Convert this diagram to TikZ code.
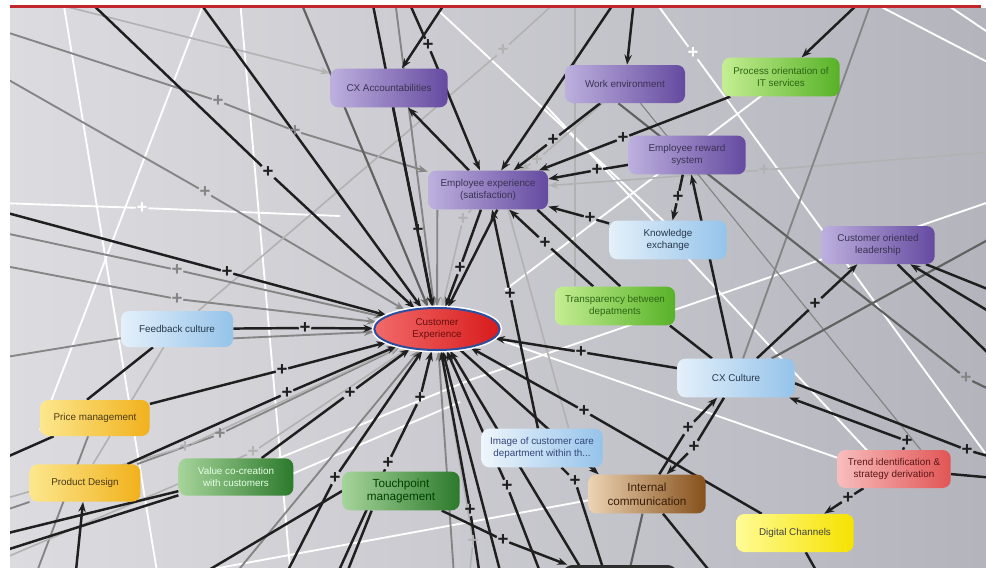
\documentclass[tikz,border=0pt]{standalone}
\usepackage{fontspec}
\newfontfamily\lab{Liberation Sans}
\usetikzlibrary{shapes.geometric,arrows.meta}
\pgfdeclarelayer{bgl}
\pgfdeclarelayer{edges}
\pgfsetlayers{bgl,edges,main}
\definecolor{bgL}{HTML}{DCDCE0}
\definecolor{bgR}{HTML}{B4B4BD}
\definecolor{topred}{HTML}{C0262C}
\definecolor{pL}{HTML}{BDB0DE}
\definecolor{pR}{HTML}{654AA0}
\definecolor{pT}{HTML}{3A3252}
\definecolor{bL}{HTML}{E4F0FA}
\definecolor{bR}{HTML}{95C3EA}
\definecolor{bT}{HTML}{26384A}
\definecolor{bbT}{HTML}{34467A}
\definecolor{gL}{HTML}{C4EE92}
\definecolor{gR}{HTML}{57B227}
\definecolor{gT}{HTML}{2C6614}
\definecolor{dgL}{HTML}{A6D49A}
\definecolor{dgR}{HTML}{2C7A2C}
\definecolor{yL}{HTML}{FCE78E}
\definecolor{yR}{HTML}{F1B11C}
\definecolor{yT}{HTML}{4A3A16}
\definecolor{dyL}{HTML}{FFFB94}
\definecolor{dyR}{HTML}{F6E200}
\definecolor{brL}{HTML}{EDD3B4}
\definecolor{brR}{HTML}{85501A}
\definecolor{brT}{HTML}{3A1E08}
\definecolor{pkL}{HTML}{F8BDBD}
\definecolor{pkR}{HTML}{E15555}
\definecolor{pkT}{HTML}{5E1616}
\definecolor{ceL}{HTML}{F26A6A}
\definecolor{ceR}{HTML}{D81B1B}
\definecolor{ceB}{HTML}{2E4E9E}
\definecolor{ceT}{HTML}{6A0E0E}
\begin{document}
\begin{tikzpicture}[x=0.75pt,y=-0.75pt,
 nbox/.style={rounded corners=6pt,minimum width=88pt,minimum height=29pt,align=center,inner sep=1pt,font=\lab\fontsize{7.4}{8.8}\selectfont},
 purp/.style={nbox,left color=pL,right color=pR,text=pT},
 lblue/.style={nbox,left color=bL,right color=bR,text=bT},
 lblueb/.style={nbox,left color=bL!60!white,right color=bR,text=bbT},
 grn/.style={nbox,left color=gL,right color=gR,text=gT},
 dgrn/.style={nbox,left color=dgL,right color=dgR,text=white!90!green},
 dgrnb/.style={nbox,left color=dgL,right color=dgR,text=black!75!green,font=\lab\fontsize{8.8}{10.4}\selectfont},
 yel/.style={nbox,left color=yL,right color=yR,text=yT},
 dyel/.style={nbox,left color=dyL,right color=dyR,text=black!75},
 brn/.style={nbox,left color=brL,right color=brR,text=brT,font=\lab\fontsize{8.8}{10.4}\selectfont},
 pnk/.style={nbox,left color=pkL,right color=pkR,text=pkT},
 cenode/.style={ellipse,minimum width=94pt,minimum height=31.5pt,inner sep=0pt,left color=ceL,right color=ceR,draw=ceB,line width=1.5pt,preaction={draw=white,line width=3.8pt},align=center,text=ceT,font=\lab\fontsize{7.4}{8.8}\selectfont},
 botn/.style={rounded corners=10pt,fill=black!82,minimum width=90pt,minimum height=30pt},
 blk/.style={draw=black!88,line width=1.85pt},
 dgl/.style={draw=black!62,line width=1.6pt},
 gry/.style={draw=black!48,line width=1.4pt},
 lgy/.style={draw=black!30,line width=1.2pt},
 wht/.style={draw=white,line width=1.4pt},
 arr/.style={-{Stealth[length=7.5pt,width=5.5pt]}},
 pl/.style={font=\lab\bfseries\fontsize{14}{14}\selectfont,inner sep=0.4pt,text=black!88},
 plg/.style={pl,text=black!48},
 pll/.style={pl,text=black!30},
 plw/.style={pl,text=white}
]
\useasboundingbox (0,0) rectangle (986,568);
\begin{pgfonlayer}{bgl}
\fill[white] (0,0) rectangle (986,568);
\shade[left color=bgL,right color=bgR] (10,8) rectangle (986,568);
\draw[topred,line width=2.4pt] (10,6.5) -- (981,6.5);
\end{pgfonlayer}

% nodes
\node[purp] (CXA) at (389,88) {CX Accountabilities};
\node[purp,minimum width=90pt,minimum height=28.5pt] (WE) at (625,84) {Work environment};
\node[grn] (PO) at (781,77) {Process orientation of\\IT services};
\node[purp] (ER) at (687,155) {Employee reward\\system};
\node[purp,minimum width=90pt] (EE) at (488,190) {Employee experience\\(satisfaction)};
\node[lblue] (KE) at (668,240) {Knowledge\\exchange};
\node[purp,minimum width=85pt,minimum height=28.5pt] (COL) at (878,245) {Customer oriented\\leadership};
\node[grn,minimum width=90pt] (TR) at (615,306) {Transparency between\\depatments};
\node[lblue,minimum width=84pt,minimum height=27pt] (FC) at (177,329) {Feedback culture};
\node[cenode] (CE) at (437,329) {Customer\\Experience};
\node[lblue] (CXC) at (736,378) {CX Culture};
\node[yel,minimum width=82pt,minimum height=27pt] (PM) at (95,418) {Price management};
\node[yel,minimum width=83pt,minimum height=28pt] (PD) at (85,483) {Product Design};
\node[dgrn,minimum width=86pt,minimum height=28pt] (VC) at (236,477) {Value co-creation\\with customers};
\node[dgrnb] (TM) at (401,491) {Touchpoint\\management};
\node[lblueb,minimum width=91pt] (ICC) at (542,448) {Image of customer care\\department within th...};
\node[brn] (IC) at (647,494) {Internal\\communication};
\node[pnk,minimum width=85pt,minimum height=28.5pt] (TRD) at (894,469) {Trend identification \&\\strategy derivation};
\node[dyel,minimum width=88pt,minimum height=28.5pt] (DC) at (795,533) {Digital Channels};
\node[botn] (BOT) at (620,585) {};

% plus signs
\node[pl] (p1) at (268,172) {+};
\node[plg] (g1) at (218,101) {+};
\node[plg] (g2) at (295,131) {+};
\node[plg] (g3) at (205,192) {+};
\node[pl] (b5) at (428,45) {+};
\node[pl] (b6) at (418,230) {+};
\node[pll] (g4) at (503,50) {+};
\node[pl] (b10) at (553,140) {+};
\node[pl] (b11) at (623,138) {+};
\node[pl] (b12) at (597,170) {+};
\node[pll] (g6) at (764,170) {+};
\node[pl] (b13) at (590,218) {+};
\node[pl] (b14) at (545,243) {+};
\node[pl] (b16) at (510,294) {+};
\node[pl] (b17) at (460,268) {+};
\node[pl] (b19) at (678,197) {+};
\node[pl] (b22) at (815,304) {+};
\node[plg] (b27) at (966,378) {+};
\node[pl] (b29) at (907,441) {+};
\node[pl] (b30) at (967,450) {+};
\node[pl] (b32) at (848,498) {+};
\node[pl] (b34) at (584,411) {+};
\node[pl] (b35) at (581,352) {+};
\node[pl] (b36) at (688,428) {+};
\node[pl] (b37) at (694,447) {+};
\node[pl] (b38) at (503,540) {+};
\node[pl] (b39) at (305,328) {+};
\node[pl] (b40) at (227,272) {+};
\node[plg] (g11) at (177,270) {+};
\node[plg] (g12) at (177,299) {+};
\node[pl] (b41) at (282,370) {+};
\node[pl] (b42) at (287,393) {+};
\node[plg] (g14) at (220,434) {+};
\node[pl] (b43) at (350,393) {+};
\node[pl] (b48a) at (388,463) {+};
\node[pl] (b48b) at (420,398) {+};
\node[pl] (b49) at (335,478) {+};
\node[pl] (b50) at (470,510) {+};
\node[pll] (g15) at (473,541) {+};
\node[pl] (b51) at (507,486) {+};
\node[pl] (b53) at (575,481) {+};
\node[pll] (lp1) at (185,447) {+};
\node[pll] (lp2) at (253,452) {+};
\node[pll] (lp3) at (537,160) {+};
\node[pll] (lp4) at (463,219) {+};
\node[plw] (w1p) at (693,53) {+};
\node[plw] (w2p) at (142,208) {+};

% free ends
\coordinate (t1) at (88,0); \coordinate (t2) at (40,0); \coordinate (t3) at (198,0);
\coordinate (t4) at (300,0); \coordinate (t5) at (372,0); \coordinate (t6) at (447,0);
\coordinate (t7) at (408,0); \coordinate (t8) at (558,0); \coordinate (t9) at (616,0);
\coordinate (t10) at (634,0); \coordinate (t11) at (872,0); \coordinate (t12) at (862,0);
\coordinate (t13) at (395,0); \coordinate (t15) at (575,0);
\coordinate (l1) at (0,30); \coordinate (l2) at (0,75); \coordinate (l3) at (0,211);
\coordinate (l4) at (0,232); \coordinate (l5) at (0,265); \coordinate (l6) at (0,358);
\coordinate (l7) at (0,460); \coordinate (l8) at (0,535); \coordinate (l9) at (0,552);
\coordinate (l10) at (0,512); \coordinate (l12) at (0,500); \coordinate (l13) at (0,560);
\coordinate (r1) at (992,152); \coordinate (r2) at (995,236); \coordinate (r3) at (995,292);
\coordinate (r4) at (995,315); \coordinate (r5) at (995,360); \coordinate (r6) at (995,392);
\coordinate (r7) at (995,458); \coordinate (r8) at (995,478);
\coordinate (d1) at (74,590); \coordinate (d2) at (340,590); \coordinate (d3) at (330,590);
\coordinate (d4) at (278,590); \coordinate (d5) at (482,590); \coordinate (d6) at (468,590);
\coordinate (d7) at (547,590); \coordinate (d8) at (594,590); \coordinate (d9) at (610,590);
\coordinate (d10) at (175,590); \coordinate (d11) at (30,590); \coordinate (d12) at (505,590);
\coordinate (d13) at (455,590); \coordinate (d14) at (827,590); \coordinate (d15) at (222,590);
\coordinate (d16) at (625,590); \coordinate (d17) at (725,590);
% white background lines ends
\coordinate (wa1) at (654,0); \coordinate (wb1) at (985,453);
\coordinate (wa2) at (940,0); \coordinate (wb2) at (995,37);
\coordinate (wa3) at (868,0); \coordinate (wb3) at (995,66);
\coordinate (wa4) at (765,93); \coordinate (wb4) at (505,290);
\coordinate (wa5) at (440,12); \coordinate (wb5) at (700,255);
\coordinate (wa6) at (470,380); \coordinate (wb6) at (995,200);
\coordinate (wa7) at (545,105); \coordinate (wb7) at (890,475);
\coordinate (wa8) at (500,340); \coordinate (wb8) at (838,458);
\coordinate (wa9) at (0,608); \coordinate (wb9) at (590,500);
\coordinate (wa10) at (63,0); \coordinate (wb10) at (160,590);
\coordinate (wa11) at (240,0); \coordinate (wb11) at (292,590);
\coordinate (wa12) at (0,203); \coordinate (wb12) at (340,216);
\coordinate (wa13) at (205,0); \coordinate (wb13) at (40,430);
\coordinate (wa14) at (250,470); \coordinate (wb14) at (470,380);
\coordinate (wa15) at (250,492); \coordinate (wb15) at (460,402);

\begin{pgfonlayer}{edges}
\begin{scope}
\clip (10,8) rectangle (986,568);
% white lines
\draw[wht] (wa1) -- (w1p) -- (wb1);
\draw[wht] (wa2) -- (wb2);
\draw[wht] (wa3) -- (wb3);
\draw[wht] (wa4) -- (wb4);
\draw[wht] (wa5) -- (wb5);
\draw[wht] (wa6) -- (wb6);
\draw[wht] (wa7) -- (wb7);
\draw[wht] (wa8) -- (wb8);
\draw[wht] (wa9) -- (wb9);
\draw[wht] (wa10) -- (wb10);
\draw[wht] (wa11) -- (wb11);
\draw[wht] (wa12) -- (w2p) -- (wb12);
\draw[wht] (wa13) -- (wb13);
\draw[wht] (wa14) -- (wb14);
\draw[wht] (wa15) -- (wb15);
% light and gray lines
\draw[lgy,arr] (t2) -- (CXA);
\draw[gry,arr] (l1) -- (g1) -- (g2) -- (EE);
\draw[gry,arr] (l2) -- (g3) -- (CE);
\draw[lgy] (t8) -- (g4) -- (FC);
\draw[lgy,arr] (WE) -- (lp3) -- (EE);
\draw[lgy,arr] (r1) -- (g6) -- (EE);
\draw[gry,arr] ([xshift=-38pt]EE.south) -- (CE);
\draw[lgy,arr] (EE) -- (lp4) -- (CE);
\draw[gry,line width=0.9pt] (WE) -- ([xshift=20pt]TRD.north);
\draw[gry] (t11) -- (CXC);
\draw[gry,arr] ([yshift=-7pt]FC.east) -- (CE);
\draw[gry,arr] (l4) -- (g11) -- (CE);
\draw[gry,arr] (l5) -- (g12) -- (CE);
\draw[gry] (l6) -- (FC);
\draw[gry,arr] (PD) -- (g14) -- (CE);
\draw[lgy,arr] (d6) -- (g15) -- (CE);
\draw[gry] (l10) -- (PD);
\draw[lgy] ([xshift=-10pt]FC.south) -- ([xshift=6pt]PD.north);
\draw[gry] (d11) -- (PM);
\draw[gry,arr] (d13) -- (CE);
\draw[gry,arr] (d15) -- (CE);
\draw[lgy,arr] (l12) -- (lp1) -- (CE);
\draw[lgy,arr] (l13) -- (lp2) -- (CE);
\draw[gry,arr] (t13) -- (CE);
\draw[lgy] (t15) -- ([xshift=-30pt]TR.north);
\draw[lgy] ([xshift=15pt]EE.south) -- ([xshift=20pt]ICC.north);
\draw[dgl] (IC) -- (d16);
\draw[dgl] (CXC) -- (r2);
\draw[dgl] ([xshift=-5pt]WE.south) -- (b27) -- (r6);
\draw[dgl,arr] (t4) -- (CE);
% black lines
\draw[blk,arr] (t1) -- (p1) -- (CE);
\draw[blk,arr] (t3) -- (CE);
\draw[blk,arr] (t5) -- (CE);
\draw[blk,arr] (t6) -- (CXA);
\draw[blk,arr] (t7) -- (b5) -- (EE);
\draw[blk,arr] (CXA) -- (b6) -- (CE);
\draw[blk,arr] (EE) -- (CXA);
\draw[blk,arr] (t9) -- (EE);
\draw[blk,arr] (t10) -- (WE);
\draw[blk,arr] (WE) -- (b10) -- (EE);
\draw[blk,arr] (PO) -- (b11) -- (EE);
\draw[blk,arr] (ER) -- (b12) -- (EE);
\draw[blk,arr] (KE) -- (b13) -- (EE);
\draw[blk,arr] (TR) -- (b14) -- (EE);
\draw[blk] ([xshift=4pt]TR.north) -- ([xshift=37pt]EE.south);
\draw[blk,arr] (ICC) -- (b16) -- (EE);
\draw[blk,arr] (EE) -- (b17) -- (CE);
\draw[blk,arr] ([xshift=7pt]EE.south) -- (CE);
\draw[blk,arr] (ER) -- (b19) -- (KE);
\draw[blk,arr] (CXC) -- (ER);
\draw[blk] ([xshift=-4pt]TR.south east) -- ([xshift=-18pt]CXC.north);
\draw[blk,arr] (CXC) -- (b22) -- (COL);
\draw[blk] (COL) -- (r3);
\draw[blk,arr] (r4) -- (COL);
\draw[blk] (COL) -- (r5);
\draw[blk,arr] (t12) -- (PO);
\draw[blk,arr] (TRD) -- (b29) -- (CXC);
\draw[blk] ([yshift=-4pt]CXC.east) -- (b30) -- (r7);
\draw[blk] (TRD) -- (r8);
\draw[blk,arr] (TRD) -- (b32) -- (DC);
\draw[blk] (DC) -- (d14);
\draw[blk,arr] (DC) -- (b34) -- (CE);
\draw[blk,arr] (CXC) -- (b35) -- (CE);
\draw[blk,arr] (IC) -- (b36) -- (CXC);
\draw[blk,arr] (CXC) -- (b37) -- (IC);
\draw[blk,arr] (TM) -- (b38) -- (BOT);
\draw[blk,arr] (FC) -- (b39) -- (CE);
\draw[blk,arr] (l3) -- (b40) -- (CE);
\draw[blk,arr] (PM) -- (b41) -- (CE);
\draw[blk,arr] (PD) -- (b42) -- (CE);
\draw[blk,arr] (VC) -- (b43) -- (CE);
\draw[blk] (l7) -- (PM);
\draw[blk,arr] (d1) -- (PD);
\draw[blk] ([xshift=-22pt]TM.south) -- (d2);
\draw[blk,arr] (d3) -- (b48a) -- (b48b) -- (CE);
\draw[blk,arr] (d4) -- (b49) -- (CE);
\draw[blk,arr] (d5) -- (b50) -- (CE);
\draw[blk,arr] (d7) -- (b51) -- (CE);
\draw[blk,arr] (d8) -- (CE);
\draw[blk] (ICC) -- (b53) -- (d9);
\draw[blk,arr] (CE) -- ([xshift=8pt]IC.north west);
\draw[blk] (d10) -- (TM.west);
\draw[blk] (l8) -- (VC);
\draw[blk] (l9) -- (VC);
\draw[blk] ([xshift=-6pt]PM.north) -- ([xshift=-18pt]FC.south);
\draw[blk,arr] (d12) -- (CE);
\draw[blk] (IC) -- (d17);
\end{scope}
\end{pgfonlayer}
\end{tikzpicture}
\end{document}
